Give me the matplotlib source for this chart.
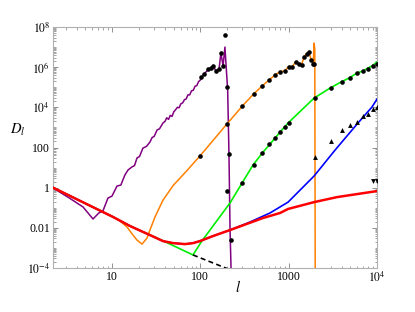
import numpy as np
import matplotlib
matplotlib.use("Agg")
import matplotlib.pyplot as plt
from matplotlib.ticker import FixedLocator, FixedFormatter, LogLocator, NullFormatter

plt.rcParams['font.family'] = ['Liberation Serif', 'DejaVu Serif']
plt.rcParams['mathtext.fontset'] = 'stix'

# ---- data (l, log10 D) ----
red_l = [2, 10.3, 16, 26.9, 37.8, 49, 67, 83, 99, 139, 217, 513, 800, 985, 1940, 3530, 10000]
red_logD = [0.07, -1.46, -1.91, -2.36, -2.66, -2.76, -2.81, -2.76, -2.66, -2.41, -2.11,
            -1.51, -1.26, -1.06, -0.72, -0.47, -0.17]

blue_l = [2, 10.3, 16, 26.9, 37.8, 49, 67, 83, 99, 139, 217, 366, 615, 985, 1940, 3350, 5957, 8790, 10000]
blue_logD = [0.07, -1.46, -1.91, -2.36, -2.66, -2.76, -2.81, -2.76, -2.66, -2.41, -2.11,
             -1.71, -1.26, -0.72, 0.58, 1.87, 3.17, 4.02, 4.41]

green_l = [2, 10.3, 16, 26.9, 45.4, 82.6, 104, 217, 297, 395, 513, 615, 800, 985, 1940,
           2944, 3918, 4830, 5957, 6966, 7925, 8790, 10000]
green_logD = [0.07, -1.46, -1.91, -2.36, -2.81, -3.35, -2.66, -0.76, 0.23, 1.13, 1.77, 2.17,
              2.77, 3.22, 4.46, 4.96, 5.26, 5.46, 5.71, 5.81, 5.96, 6.06, 6.26]

orange_l = [2, 10.3, 12.3, 14.8, 17.3, 19.2, 21.9, 24.9, 26.9, 30.7, 37.8, 49.1, 70.6, 100,
            200, 300, 400, 500, 600, 700, 800, 900, 1000, 1100, 1200, 1300, 1400, 1500, 1600,
            1700, 1800, 1900, 1940, 1975, 2000]
orange_logD = [0.07, -1.46, -1.66, -1.96, -2.36, -2.61, -2.81, -2.51, -2.11, -1.46, -0.62,
               0.10, 0.85, 1.60, 3.17, 4.07, 4.66, 5.06, 5.36, 5.61, 5.78, 5.81, 6.03, 6.03,
               6.26, 6.16, 6.13, 6.53, 6.68, 6.75, 6.36, 6.18, 7.20, 6.90, -5.0]

purple_l = [2, 3.3, 4.7, 6.1, 7.1, 7.9, 9.0, 10, 11.4, 12.6, 14.0, 15.2, 16.8, 18, 19.2, 20.5,
            22.4, 24.5, 26.9, 28.5, 30, 32.4, 34.5, 37.8,
            39.8, 41.7, 43.7, 45.7, 47.9, 50.1, 52.5, 55.0, 57.5, 60.3, 63.1, 66.1, 69.2, 72.4,
            75.9, 79.4, 83.2, 87.1, 91.2, 95.5, 100,
            102, 110, 122, 132, 139, 151, 163, 171, 181, 190, 195, 204, 211, 217, 223]
purple_logD = [0.07, -0.52, -0.96, -1.56, -1.26, -1.16, -0.52, -0.42, 0.08, 0.13, 0.63, 0.88,
               1.03, 1.10, 1.48, 1.55, 1.97, 2.05, 2.27, 2.50, 2.55, 2.87, 2.93, 3.22,
               3.30, 3.48, 3.40, 3.60, 3.55, 3.78, 3.88, 4.00, 3.98, 4.18, 4.22, 4.38, 4.42,
               4.62, 4.62, 4.82, 4.85, 5.05, 5.08, 5.28, 5.36,
               5.45, 5.66, 5.86, 5.96, 6.06, 5.81, 5.91, 6.71, 6.06, 7.00, 6.20, 4.86, 1.68,
               -2.10, -4.10]

dashed_l = [82.6, 215]
dashed_logD = [-3.35, -4.08]

# black circles
circ_l = [100, 102, 110, 122, 132, 139, 151, 163, 171, 181, 190, 200, 200, 211, 200, 223,
          300, 400, 500, 600, 700, 800, 900, 1000, 1100, 1200, 1300, 1400, 1500, 1600, 1700,
          1800, 1900, 1950,
          300, 400, 500, 600, 700, 800, 900, 1000, 2000, 3000, 4000, 5000, 6000, 7000, 8000,
          9000, 10000]
circ_logD = [1.58, 5.51, 5.66, 5.91, 5.96, 6.06, 5.81, 5.91, 6.71, 6.06, 7.60, 5.01, 3.17, 1.68,
             -0.17, -2.61,
             4.07, 4.66, 5.06, 5.36, 5.61, 5.78, 5.81, 6.03, 6.03, 6.26, 6.16, 6.13, 6.53,
             6.68, 6.75, 6.36, 6.18, 6.16,
             0.23, 1.13, 1.72, 2.17, 2.47, 2.77, 3.02, 3.22, 4.46, 4.96, 5.26, 5.46, 5.71,
             5.81, 5.91, 6.06, 6.16]

triup_l = [2000, 3000, 4000, 5000, 6000, 7000, 8000, 9000, 10000]
triup_logD = [1.53, 2.32, 2.87, 3.12, 3.27, 3.57, 3.67, 3.92, 4.02]

tridn_l = [9000, 10000]
tridn_logD = [0.33, 0.33]

x_ticks = [10, 100, 1000, 10000]
x_labels = ['10', '100', '1000', '$10^{4}$']
y_ticks = [1e-4, 1e-2, 1, 1e2, 1e4, 1e6, 1e8]
y_labels = ['$10^{-4}$', '0.01', '1', '100', '$10^{4}$', '$10^{6}$', '$10^{8}$']

# ---- plot ----
fig = plt.figure(figsize=(4.15, 3.12), dpi=100)
ax = fig.add_axes([53/415, 44/312, 324/415, 241/312])

def D(v):
    return 10.0 ** np.asarray(v)

ax.plot(purple_l, D(purple_logD), color='#800080', lw=1.1, zorder=3)
ax.plot(orange_l, D(orange_logD), color='#FF8000', lw=1.1, zorder=3)
ax.plot(green_l, D(green_logD), color='#00EE00', lw=1.2, zorder=3)
ax.plot(dashed_l, D(dashed_logD), color='black', lw=1.2, ls=(0, (3, 2)), zorder=3)
ax.plot(blue_l, D(blue_logD), color='#0000FF', lw=1.2, zorder=3)
ax.plot(red_l, D(red_logD), color='#FF0000', lw=1.8, zorder=4)

ax.plot(circ_l, D(circ_logD), 'o', color='black', ms=3.3, mew=0, zorder=5)
ax.plot(triup_l, D(triup_logD), '^', color='black', ms=3.5, mew=0, zorder=5)
ax.plot(tridn_l, D(tridn_logD), 'v', color='black', ms=3.5, mew=0, zorder=5)

ax.set_xscale('log')
ax.set_yscale('log')
ax.set_xlim(2.15, 10000)
ax.set_ylim(1e-4, 1e8)

ax.xaxis.set_major_locator(FixedLocator(x_ticks))
ax.xaxis.set_major_formatter(FixedFormatter(x_labels))
ax.xaxis.set_minor_locator(LogLocator(base=10, subs=np.arange(2, 10), numticks=20))
ax.xaxis.set_minor_formatter(NullFormatter())
ax.yaxis.set_major_locator(FixedLocator(y_ticks))
ax.yaxis.set_major_formatter(FixedFormatter(y_labels))
ax.yaxis.set_minor_locator(LogLocator(base=10, subs=np.arange(1, 10), numticks=30))
ax.yaxis.set_minor_formatter(NullFormatter())

for s in ax.spines.values():
    s.set_color('#b0b0b0')
    s.set_linewidth(0.8)
ax.tick_params(which='both', direction='in', top=True, right=True, color='#808080',
               labelsize=8.5, pad=2)
ax.tick_params(which='major', length=3.5, width=0.6)
ax.tick_params(which='minor', length=1.8, width=0.5)

fig.text(18/415, 1 - 130/312, '$D_l$', fontsize=10.5, ha='center', va='center')
fig.text(238/415, 1 - 287/312, '$l$', fontsize=10.5, ha='center', va='center')

fig.savefig('out.png', dpi=100, facecolor='white')
